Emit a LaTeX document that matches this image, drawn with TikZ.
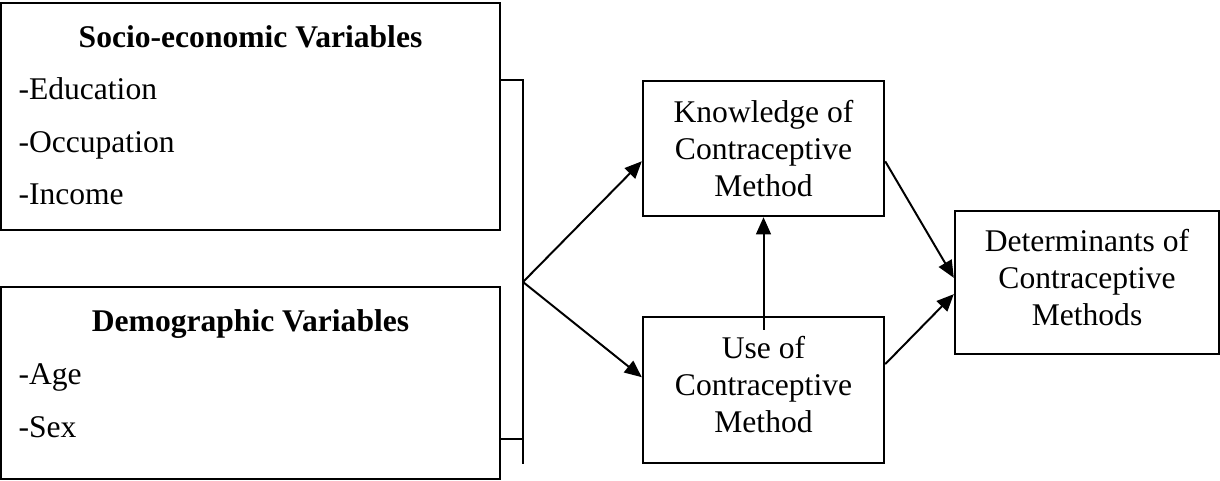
\documentclass[tikz,border=0pt]{standalone}
\usepackage{fontspec}
\setmainfont{Liberation Serif}
\usetikzlibrary{arrows.meta, positioning}
\newcommand{\pxu}{0.38pt}

\begin{document}
\begin{tikzpicture}[x=0.38pt, y=0.38pt, font=\fontsize{12}{14}\selectfont]
\tikzstyle{box}=[rectangle, draw=black, line width=0.9pt, inner sep=0pt, align=center]
\tikzstyle{head}=[anchor=base, inner sep=0pt, font=\fontsize{12}{14}\selectfont\bfseries]
\tikzstyle{item}=[anchor=base west, inner sep=0pt]
\tikzstyle{connect}=[-{Triangle[length=6.5pt, width=5.6pt]}, line width=0.75pt]
\tikzstyle{link}=[-, line width=0.75pt]
\useasboundingbox (0,0) rectangle (1220,480);
% left boxes
\node[box, minimum width=499*\pxu, minimum height=227*\pxu] (socio) at (250.5, 363.5) {};
\node[box, minimum width=499*\pxu, minimum height=192*\pxu] (demo) at (250.5, 97) {};
\node[head] (sociohead) at (250.5, 432) {Socio-economic Variables};
\node[item] (edu) at (18, 380) {-Education};
\node[item] (occ) at (18, 327) {-Occupation};
\node[item] (inc) at (18, 275) {-Income};
\node[head] (demohead) at (250.5, 148) {Demographic Variables};
\node[item] (age) at (18, 95) {-Age};
\node[item] (sex) at (18, 43) {-Sex};
% right boxes
\node[box, minimum width=241*\pxu, minimum height=135*\pxu] (know) at (763.5, 331.5) {Knowledge of\\Contraceptive\\Method};
\node[box, minimum width=241*\pxu, minimum height=146*\pxu, text depth=4.5pt] (use) at (763.5, 90) {Use of\\Contraceptive\\Method};
\node[box, minimum width=264*\pxu, minimum height=143*\pxu, text depth=3.8pt] (det) at (1087, 197.5) {Determinants of\\Contraceptive\\Methods};
% bracket
\coordinate (btop) at (523, 400);
\coordinate (bbot) at (523, 16);
\coordinate (dtick) at (523, 41);
\coordinate (fork) at (523, 198);
\coordinate (vstart) at (763.5, 150);
\draw[link] (socio.east |- btop) -- (btop) -- (bbot);
\draw[link] (demo.east |- dtick) -- (dtick);
% arrows
\path (fork) edge [connect] (know.186);
\path (fork) edge [connect] (use.174);
\path (vstart) edge [connect] (know.south);
\path (know.354) edge [connect] (det.178);
\path (use.12) edge [connect] (det.185);
\end{tikzpicture}
\end{document}
